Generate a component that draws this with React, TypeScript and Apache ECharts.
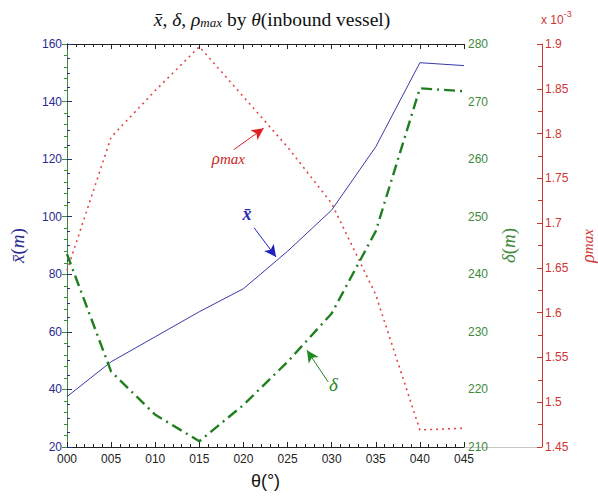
import React, { useEffect, useRef } from "react";
import * as echarts from "echarts";

// θ (degrees) – sampled every 5°
const degrees = [0, 5, 10, 15, 20, 25, 30, 35, 40, 45];
// mean x̄ (m) – left axis
const xbar = [37.5, 49.6, 58.3, 67, 75, 88, 102.3, 124.3, 153.5, 152.5];
// δ (m) – middle (green) axis
const delta = [243.5, 223.1, 215.6, 211, 217.3, 224.8, 233.2, 247.5, 272.3, 271.8];
// ρmax (×10^-3) – far right (red) axis
const rhoMax = [1.647, 1.796, 1.848, 1.897, 1.841, 1.785, 1.722, 1.62, 1.469, 1.471];

// annotation arrows in data coordinates: [from, to], label point
const rhoArrow = [[18.9, 1.782], [22.3, 1.806]];
const rhoLabel = [18.3, 1.772];
const xbarArrow = [[21.2, 96.2], [23.7, 86.0]];
const xbarLabel = [20.4, 101.0];
const deltaArrow = [[29.6, 221.3], [27.2, 226.8]];
const deltaLabel = [30.2, 220.8];

const BLUE = "#2b2b8f";
const BLUE_LINE = "#3a3aa8";
const GREEN = "#3d8a3d";
const GREEN_LINE = "#1f7f1f";
const RED = "#cf3535";
const RED_LINE = "#e04848";
const SERIF = "'Liberation Serif', 'DejaVu Serif', serif";
const SANS = "'Liberation Sans', Arial, sans-serif";

export default function App() {
  const ref = useRef<HTMLDivElement>(null);
  useEffect(() => {
    if (!ref.current) return;
    document.body.style.margin = "0";
    const chart = echarts.init(ref.current, undefined, { renderer: "svg" });
    const pairs = (ys: number[]) => degrees.map((d, i) => [d, ys[i]]);

    const arrowLine = (arr: number[][], color: string) => ({
      silent: true,
      symbol: ["none", "arrow"],
      symbolSize: [9, 12],
      lineStyle: { color, width: 1, type: "solid" },
      label: { show: false },
      data: [[{ coord: arr[0] }, { coord: arr[1] }]],
    });
    const labelPoint = (coord: number[], formatter: string, rich: any) => ({
      silent: true,
      symbol: "circle",
      symbolSize: 1,
      itemStyle: { color: "rgba(0,0,0,0)" },
      label: { show: true, position: "inside", formatter, rich },
      data: [{ coord }],
    });

    const yCommon = {
      type: "value",
      nameLocation: "middle",
      nameRotate: 90,
      splitLine: { show: false },
    };

    const tStyle = (italic: boolean, size: number) => ({
      fontFamily: SERIF,
      fontStyle: italic ? "italic" : "normal",
      fontWeight: "normal",
      fontSize: size,
      color: "#111",
      verticalAlign: "bottom",
      lineHeight: 22,
    });

    chart.setOption({
      animation: false,
      backgroundColor: "#ffffff",
      title: {
        text: "{i|x̄}{n|, }{i|δ}{n|, }{i|ρ}{s|max}{n| by }{i|θ}{n|(inbound vessel)}",
        left: 267,
        top: 2,
        textAlign: "center",
        textStyle: {
          fontFamily: SERIF,
          fontWeight: "normal",
          fontSize: 19.5,
          color: "#111",
          rich: {
            i: tStyle(true, 19.5),
            n: tStyle(false, 19.5),
            s: { ...tStyle(true, 13), lineHeight: 16 },
          },
        },
      },
      grid: { left: 63, right: 134, top: 44, bottom: 51, containLabel: false },
      xAxis: [
        {
          type: "value",
          min: 0,
          max: 45,
          interval: 5,
          name: "θ(°)",
          nameLocation: "middle",
          nameGap: 25,
          nameTextStyle: { fontFamily: SANS, fontSize: 18, color: "#111", verticalAlign: "top" },
          axisLine: { lineStyle: { color: "#222" } },
          axisTick: { inside: true, length: 5, lineStyle: { color: "#222" } },
          minorTick: { show: true, splitNumber: 5, length: 3, lineStyle: { color: "#222" } },
          axisLabel: {
            formatter: (v: number) => String(v).padStart(3, "0"),
            fontFamily: SANS,
            fontSize: 12,
            color: "#222",
            margin: 6,
          },
          splitLine: { show: false },
        },
        {
          type: "value",
          position: "top",
          min: 0,
          max: 45,
          interval: 5,
          axisLine: { lineStyle: { color: "#222" } },
          axisTick: { inside: true, length: 5, lineStyle: { color: "#222" } },
          minorTick: { show: true, splitNumber: 5, length: 3, lineStyle: { color: "#222" } },
          axisLabel: { show: false },
          splitLine: { show: false },
        },
      ],
      yAxis: [
        {
          ...yCommon,
          position: "left",
          min: 20,
          max: 160,
          interval: 20,
          name: "{i|x̄}{n|(}{i|m}{n|)}",
          nameGap: 40,
          nameTextStyle: {
            rich: {
              i: { fontFamily: SERIF, fontStyle: "italic", fontSize: 19, color: BLUE },
              n: { fontFamily: SERIF, fontSize: 19, color: BLUE },
            },
          },
          axisLine: { show: true, lineStyle: { color: BLUE } },
          axisTick: { show: true, inside: true, length: 5, lineStyle: { color: BLUE } },
          minorTick: { show: true, splitNumber: 4, length: 3, lineStyle: { color: BLUE } },
          axisLabel: { fontFamily: SANS, fontSize: 12, color: BLUE, margin: 5 },
        },
        {
          ...yCommon,
          position: "right",
          offset: 0,
          min: 210,
          max: 280,
          interval: 10,
          name: "{i|δ}{n|(}{i|m}{n|)}",
          nameGap: 35,
          nameTextStyle: {
            rich: {
              i: { fontFamily: SERIF, fontStyle: "italic", fontSize: 19, color: GREEN },
              n: { fontFamily: SERIF, fontSize: 19, color: GREEN },
            },
          },
          axisLine: { show: true, lineStyle: { color: GREEN } },
          axisTick: { show: true, inside: true, length: 5, lineStyle: { color: GREEN } },
          minorTick: { show: true, splitNumber: 5, length: 3, lineStyle: { color: GREEN } },
          axisLabel: { fontFamily: SANS, fontSize: 12, color: GREEN, margin: 4 },
        },
        {
          ...yCommon,
          position: "right",
          offset: 78,
          min: 1.45,
          max: 1.9,
          interval: 0.05,
          axisLine: { show: true, lineStyle: { color: RED } },
          axisTick: { show: true, inside: true, length: 5, lineStyle: { color: RED } },
          minorTick: { show: true, splitNumber: 2, length: 4, lineStyle: { color: RED } },
          axisLabel: {
            fontFamily: SANS,
            fontSize: 12,
            color: RED,
            margin: 3,
            formatter: (v: number) => String(parseFloat(v.toFixed(3))),
          },
        },
      ],
      series: [
        {
          name: "rho",
          type: "line",
          xAxisIndex: 0,
          yAxisIndex: 2,
          data: pairs(rhoMax),
          showSymbol: false,
          lineStyle: { color: RED_LINE, width: 1.6, type: [2, 4], cap: "butt" },
          markLine: arrowLine(rhoArrow, "#e02020"),
          markPoint: labelPoint(rhoLabel, "{i|ρ}{s|max}", {
            i: { fontFamily: SERIF, fontStyle: "italic", fontSize: 17, color: "#c82828" },
            s: { fontFamily: SERIF, fontStyle: "italic", fontSize: 15, color: "#c82828" },
          }),
        },
        {
          name: "xbar",
          type: "line",
          xAxisIndex: 0,
          yAxisIndex: 0,
          data: pairs(xbar),
          showSymbol: false,
          lineStyle: { color: BLUE_LINE, width: 1 },
          markLine: arrowLine(xbarArrow, "#2020c0"),
          markPoint: labelPoint(xbarLabel, "{i|x̄}", {
            i: { fontFamily: SERIF, fontStyle: "italic", fontWeight: "bold", fontSize: 18, color: "#2828b0" },
          }),
        },
        {
          name: "delta",
          type: "line",
          xAxisIndex: 0,
          yAxisIndex: 1,
          data: pairs(delta),
          showSymbol: false,
          lineStyle: { color: GREEN_LINE, width: 2.4, type: [11, 5, 2, 5], cap: "butt" },
          markLine: arrowLine(deltaArrow, "#1f8a1f"),
          markPoint: labelPoint(deltaLabel, "{i|δ}", {
            i: { fontFamily: SERIF, fontStyle: "italic", fontSize: 19, color: "#2a8a2a" },
          }),
        },
      ],
      graphic: [
        {
          type: "line",
          shape: { x1: 464, y1: 447.5, x2: 542, y2: 447.5 },
          style: { stroke: "#c8c8c8", lineWidth: 1 },
          silent: true,
        },
        {
          type: "text",
          x: 541,
          y: 8,
          style: {
            text: "{a|x 10}{b|-3}",
            rich: {
              a: { fontFamily: SANS, fontSize: 12, fill: RED, padding: [6, 0, 0, 0] },
              b: { fontFamily: SANS, fontSize: 9, fill: RED, padding: [0, 0, 6, 0] },
            },
          },
          silent: true,
        },
        {
          type: "text",
          x: 588,
          y: 246,
          rotation: Math.PI / 2,
          style: {
            text: "{i|ρ}{s|max}",
            align: "center",
            verticalAlign: "middle",
            rich: {
              i: { fontFamily: SERIF, fontStyle: "italic", fontSize: 18, fill: RED },
              s: { fontFamily: SERIF, fontStyle: "italic", fontSize: 15, fill: RED },
            },
          },
          silent: true,
        },
      ],
    });
    return () => chart.dispose();
  }, []);
  return <div ref={ref} style={{ width: 598, height: 498 }} />;
}
